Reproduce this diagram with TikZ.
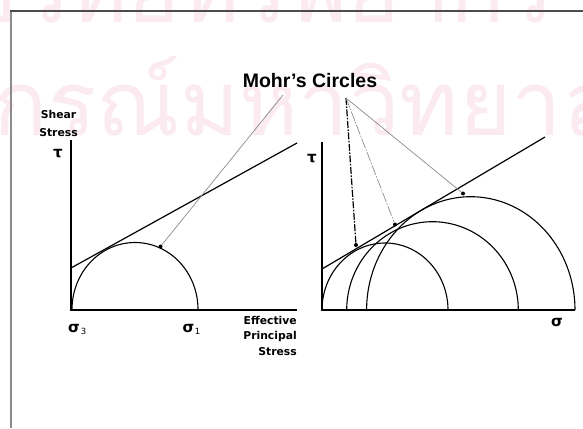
\documentclass[tikz,border=0pt]{standalone}
\usepackage{fontspec}
\setmainfont{Liberation Sans}
\newfontfamily\dvs{DejaVu Sans}
\newfontfamily\thaifont[Script=Thai]{Loma}
\definecolor{wm}{RGB}{251,234,239}
\begin{document}
\begin{tikzpicture}[x=1pt,y=-1pt,
  axis/.style={line width=2pt,black},
  mohr/.style={line width=1.1pt,black},
  env/.style={line width=1.2pt,black},
  conn/.style={line width=0.7pt,black!45},
  dotmark/.style={circle,fill=black,inner sep=0pt,minimum size=4pt},
  lab/.style={font=\dvs\bfseries\fontsize{10.8}{12}\selectfont,inner sep=0pt},
  sig/.style={font=\dvs\bfseries\fontsize{15}{15}\selectfont,inner sep=0pt},
  sub/.style={font=\dvs\fontsize{8.5}{8.5}\selectfont,inner sep=0pt,anchor=base},
  wmark/.style={font=\thaifont\fontsize{90}{90}\selectfont,text=wm,inner sep=0pt,anchor=base}]
\useasboundingbox (0,0) rectangle (583,428);
\fill[white] (0,0) rectangle (583,428);
% watermark
\begin{scope}
\clip (0,0) rectangle (583,428);
\node[wmark] (wm1) at (200,23) {ศูนย์วิทยทรัพยากร};
\node[wmark] (wm2) at (200,135) {จุฬาลงกรณ์มหาวิทยาลัย};
\end{scope}
% frame
\draw[line width=2pt,black!45] (11,428) -- (11,11);
\draw[line width=2pt,black!70] (10,11) -- (583,11);
% title
\node[font=\bfseries\fontsize{19.5}{20}\selectfont,inner sep=0pt,anchor=base] (title) at (310,87) {Mohr’s Circles};
\coordinate (t1) at (283,95);
\coordinate (t2) at (346,98);
% ---------- left plot ----------
\coordinate (O1) at (71,309.5);
\draw[axis] (71,140) -- (O1) -- (297,309.5);
\draw[mohr] plot[domain=0:180,samples=90] ({135+63*cos(\x)},{309.5-67*sin(\x)});
\draw[env] (71,268) -- (297,143);
\node[dotmark] (d1) at (160.5,246.5) {};
\draw[conn] (t1) -- (d1);
\node[lab,anchor=base] (shear) at (58.5,118) {Shear};
\node[lab,anchor=base] (stress) at (58.5,136) {Stress};
\node[sig,anchor=base] (tau1) at (58,157) {τ};
\node[sig,anchor=base] (s3) at (74,332) {σ};
\node[sub] (s3i) at (83.5,334.5) {3};
\node[sig,anchor=base] (s1) at (188.5,332) {σ};
\node[sub] (s1i) at (197.5,334.5) {1};
\node[lab,anchor=base east] (eff1) at (297,324) {Effective};
\node[lab,anchor=base east] (eff2) at (297,339.5) {Principal};
\node[lab,anchor=base east] (eff3) at (297,355) {Stress};
% ---------- right plot ----------
\coordinate (O2) at (322,310);
\draw[axis] (322,141.5) -- (O2) -- (575,310);
\draw[mohr] plot[domain=0:180,samples=90] ({385+63*cos(\x)},{310-67*sin(\x)});
\draw[mohr] plot[domain=0:180,samples=90] ({432.5+85.8*cos(\x)},{310-88.3*sin(\x)});
\draw[mohr] plot[domain=0:180,samples=120] ({470.8+104.2*cos(\x)},{310-113.3*sin(\x)});
\draw[env] (322,269) -- (545,137);
\node[dotmark] (d2) at (356,245) {};
\node[dotmark] (d3) at (395,224.5) {};
\node[dotmark] (d4) at (463,193.5) {};
\draw[line width=1.2pt,black,dash pattern=on 7pt off 1.5pt on 1.5pt off 1.5pt] (t2) -- (d2);
\draw[conn,dash pattern=on 10pt off 1.5pt on 1.5pt off 1.5pt] (t2) -- (d3);
\draw[conn] (t2) -- (d4);
\node[sig,anchor=base] (tau2) at (312,162) {τ};
\node[sig,anchor=base] (sig2) at (557,326) {σ};
\end{tikzpicture}
\end{document}
